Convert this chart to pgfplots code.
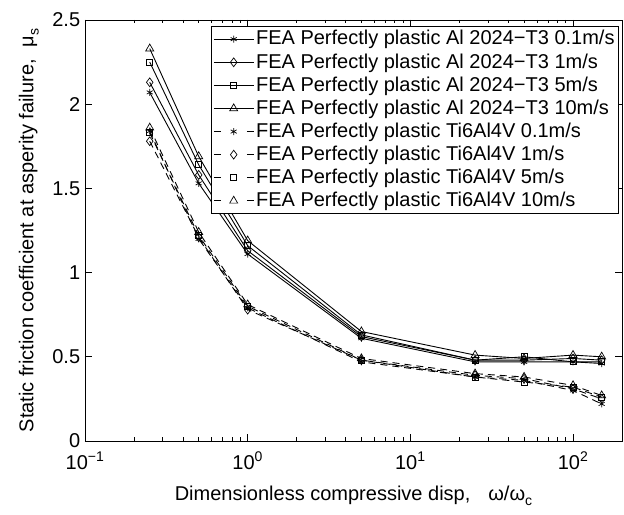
\documentclass[border=0pt]{standalone}
\usepackage{fontspec}
\setmainfont{Liberation Sans}
\usepackage{pgfplots}
\pgfplotsset{compat=1.18}
\usetikzlibrary{calc}

\pgfplotsset{
  every axis/.append style={font=\fontsize{20}{24}\selectfont},
  al/.style={black, line width=0.9pt, mark options={solid, fill=white, line width=0.7pt}},
  ti/.style={black, line width=0.9pt, dash pattern=on 7pt off 5pt, mark options={solid, fill=white, line width=0.7pt},
    legend image post style={dash pattern=on 7pt off 26pt}},
}

\begin{document}
\fontsize{20}{24}\selectfont
\begin{tikzpicture}
\begin{axis}[
    name=main,
    scale only axis,
    width=537pt, height=421pt,
    xmode=log,
    xmin=0.1, xmax=200,
    ymin=0, ymax=2.5,
    xtick={0.1,1,10,100},
    xticklabels={10\textsuperscript{−1},10\textsuperscript{0},10\textsuperscript{1},10\textsuperscript{2}},
    ytick={0,0.5,1,1.5,2,2.5},
    yticklabels={0,0.5,1,1.5,2,2.5},
    /pgf/number format/assume math mode=true,
    tick align=inside,
    major tick length=7pt,
    minor tick length=3.5pt,
    axis line style={line width=0.9pt},
    tick style={line width=0.6pt, black},
    xticklabel style={yshift=-4pt},
    yticklabel style={xshift=2pt},
    xlabel={Dimensionless compressive disp,\hspace{0.9em}ω/ω\raisebox{-0.5ex}{\fontsize{14}{16}\selectfont c}},
    ylabel={Static friction coefficient at asperity failure,\hspace{0.6em}μ\raisebox{-0.5ex}{\fontsize{14}{16}\selectfont s}},
    xlabel style={yshift=-3pt},
    ylabel style={yshift=0pt},
    legend cell align=left,
    legend style={at={(1,1)}, anchor=north east, xshift=-3pt, yshift=-6pt,
      draw=black, line width=0.9pt, font=\fontsize{20}{24}\selectfont,
      row sep=1.6pt, inner sep=2pt},
    legend image code/.code={
      \draw[mark repeat=2, mark phase=2] plot coordinates {(0cm,0cm) (0.7cm,0cm) (1.4cm,0cm)};
    },
  ]

  \addplot[al, mark=asterisk, mark size=3.5pt] coordinates {
    (0.25,2.07) (0.5,1.53) (1,1.11) (5,0.61) (25,0.47) (50,0.47) (100,0.47) (150,0.46)
  };
  \addlegendentry{FEA Perfectly plastic Al 2024−T3 0.1m/s}

  \addplot[al, mark=diamond, mark size=4.4pt] coordinates {
    (0.25,2.13) (0.5,1.58) (1,1.13) (5,0.62) (25,0.48) (50,0.48) (100,0.49) (150,0.48)
  };
  \addlegendentry{FEA Perfectly plastic Al 2024−T3 1m/s}

  \addplot[al, mark=square, mark size=3pt] coordinates {
    (0.25,2.25) (0.5,1.64) (1,1.16) (5,0.63) (25,0.48) (50,0.50) (100,0.47) (150,0.47)
  };
  \addlegendentry{FEA Perfectly plastic Al 2024−T3 5m/s}

  \addplot[al, mark=triangle, mark size=4.6pt] coordinates {
    (0.25,2.33) (0.5,1.69) (1,1.19) (5,0.65) (25,0.51) (50,0.49) (100,0.51) (150,0.50)
  };
  \addlegendentry{FEA Perfectly plastic Al 2024−T3 10m/s}

  \addplot[ti, mark=asterisk, mark size=3.5pt] coordinates {
    (0.25,1.84) (0.5,1.20) (1,0.79) (5,0.47) (25,0.38) (50,0.36) (100,0.30) (150,0.22)
  };
  \addlegendentry{FEA Perfectly plastic Ti6Al4V 0.1m/s}

  \addplot[ti, mark=diamond, mark size=4.4pt] coordinates {
    (0.25,1.78) (0.5,1.21) (1,0.78) (5,0.48) (25,0.39) (50,0.37) (100,0.31) (150,0.25)
  };
  \addlegendentry{FEA Perfectly plastic Ti6Al4V 1m/s}

  \addplot[ti, mark=square, mark size=3pt] coordinates {
    (0.25,1.83) (0.5,1.22) (1,0.80) (5,0.48) (25,0.38) (50,0.35) (100,0.32) (150,0.26)
  };
  \addlegendentry{FEA Perfectly plastic Ti6Al4V 5m/s}

  \addplot[ti, mark=triangle, mark size=4.6pt] coordinates {
    (0.25,1.86) (0.5,1.24) (1,0.81) (5,0.49) (25,0.40) (50,0.38) (100,0.33) (150,0.27)
  };
  \addlegendentry{FEA Perfectly plastic Ti6Al4V 10m/s}

\end{axis}
\pgfresetboundingbox
\path[use as bounding box] ($(main.south west)+(-85pt,-74pt)$) rectangle ($(main.north east)+(2pt,20pt)$);
\end{tikzpicture}
\end{document}
